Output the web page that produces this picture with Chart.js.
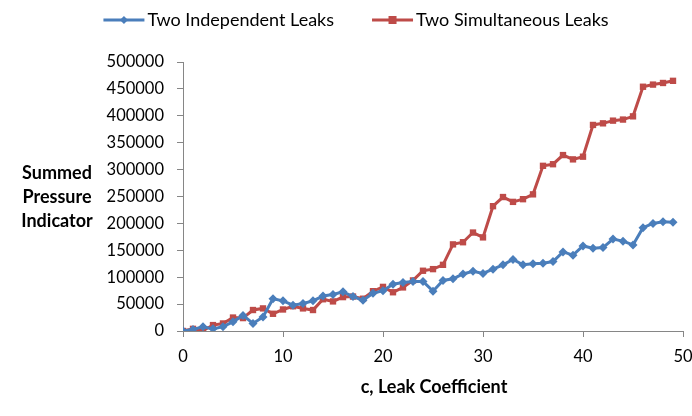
<!DOCTYPE html>
<html>
<head>
<meta charset="utf-8">
<script src="https://cdn.jsdelivr.net/npm/chart.js@4.4.1/dist/chart.umd.min.js"></script>
<style>
  html, body { margin: 0; padding: 0; background: #fff; }
  #wrap { width: 692px; height: 416px; position: relative; }
</style>
</head>
<body>
<div id="wrap"><canvas id="leaks"></canvas></div>
<script>
// leak coefficient c
var coefficients = [0, 1, 2, 3, 4, 5, 6, 7, 8, 9, 10, 11, 12, 13, 14, 15, 16, 17, 18, 19,
  20, 21, 22, 23, 24, 25, 26, 27, 28, 29, 30, 31, 32, 33, 34, 35, 36, 37, 38, 39,
  40, 41, 42, 43, 44, 45, 46, 47, 48, 49];
var independentLeaks = [0, 3000, 8000, 4000, 8000, 17000, 29000, 14000, 26000, 60000,
  56000, 48000, 51000, 56000, 65000, 68000, 73000, 64000, 57000, 70000,
  75000, 87000, 90000, 92000, 92000, 74000, 94000, 97000, 106000, 111000,
  107000, 115000, 123000, 133000, 123000, 125000, 126000, 129000, 147000, 141000,
  158000, 154000, 155000, 171000, 167000, 160000, 192000, 200000, 203000, 202000];
var simultaneousLeaks = [0, 4000, 1000, 11000, 14000, 25000, 24000, 39000, 42000, 32000,
  40000, 46000, 42000, 39000, 59000, 55000, 63000, 64000, 60000, 74000,
  82000, 72000, 81000, 94000, 112000, 115000, 123000, 161000, 165000, 183000,
  174000, 232000, 249000, 240000, 245000, 254000, 307000, 310000, 327000, 319000,
  324000, 383000, 386000, 391000, 393000, 399000, 454000, 458000, 461000, 465000];
var seriesNames = ['Two Independent Leaks', 'Two Simultaneous Leaks'];
var yTitle = ['Summed', 'Pressure', 'Indicator'];
var xTitle = 'c, Leak Coefficient';

var blue = '#4a7ebb';
var red = '#be4b48';
var axisGray = '#868686';
var fontName = 'Lato, "Open Sans", sans-serif';

function toPoints(vals) {
  return coefficients.map(function(c, i) { return { x: c, y: vals[i] }; });
}

// legend drawn by hand: line with marker, then the name
var lineLegend = {
  id: 'lineLegend',
  afterDraw: function(chart) {
    var ctx = chart.ctx;
    var sets = chart.data.datasets;
    ctx.save();
    ctx.font = '18px ' + fontName;
    var iconW = 41, gap = 3, between = 38, y = 20;
    var total = 0;
    sets.forEach(function(ds, i) {
      total += iconW + gap + ctx.measureText(ds.label).width + (i ? between : 0);
    });
    var x = 356 - total / 2;
    sets.forEach(function(ds) {
      ctx.strokeStyle = ds.borderColor;
      ctx.fillStyle = ds.borderColor;
      ctx.lineWidth = 3;
      ctx.beginPath(); ctx.moveTo(x, y); ctx.lineTo(x + iconW, y); ctx.stroke();
      var cx = x + iconW / 2;
      if (ds.pointStyle === 'rect') {
        ctx.fillRect(cx - 4, y - 4, 8, 8);
      } else {
        ctx.beginPath();
        ctx.moveTo(cx, y - 4); ctx.lineTo(cx + 4, y); ctx.lineTo(cx, y + 4); ctx.lineTo(cx - 4, y);
        ctx.closePath(); ctx.fill();
      }
      ctx.fillStyle = '#000';
      ctx.textAlign = 'left';
      ctx.textBaseline = 'middle';
      ctx.fillText(ds.label, x + iconW + gap, y);
      x += iconW + gap + ctx.measureText(ds.label).width + between;
    });
    ctx.restore();
  }
};

var titles = {
  id: 'axisTitles',
  afterDraw: function(chart) {
    var ctx = chart.ctx, area = chart.chartArea;
    ctx.save();
    ctx.fillStyle = '#000';
    ctx.font = 'bold 18px ' + fontName;
    ctx.textAlign = 'center';
    ctx.textBaseline = 'middle';
    yTitle.forEach(function(t, i) { ctx.fillText(t, 57, 173 + i * 24.3); });
    ctx.fillText(xTitle, 434, 387);
    ctx.restore();
  }
};

new Chart(document.getElementById('leaks'), {
  type: 'line',
  data: {
    datasets: [{
      label: seriesNames[0],
      data: toPoints(independentLeaks),
      borderColor: blue,
      backgroundColor: blue,
      borderWidth: 3,
      pointStyle: 'rectRot',
      pointRadius: 4.5,
      pointBorderWidth: 0,
      tension: 0
    }, {
      label: seriesNames[1],
      data: toPoints(simultaneousLeaks),
      borderColor: red,
      backgroundColor: red,
      borderWidth: 3,
      pointStyle: 'rect',
      pointRadius: 4.5,
      pointBorderWidth: 0,
      tension: 0
    }]
  },
  options: {
    responsive: true,
    maintainAspectRatio: false,
    animation: false,
    layout: { padding: { top: 62, right: 0, left: 0, bottom: 0 } },
    plugins: {
      legend: { display: false },
      tooltip: { enabled: false }
    },
    scales: {
      x: {
        type: 'linear',
        min: 0,
        max: 50,
        ticks: { stepSize: 10, color: '#000', font: { family: fontName, size: 16.5 }, padding: 10 },
        grid: { drawOnChartArea: false, drawTicks: true, tickLength: 6, color: axisGray },
        border: { color: axisGray, width: 1 },
        afterFit: function(scale) { scale.height = 85; scale.paddingRight = 9; }
      },
      y: {
        min: 0,
        max: 500000,
        ticks: {
          stepSize: 50000, color: '#000', font: { family: fontName, size: 16.5 }, padding: 13,
          callback: function(v) { return String(v); }
        },
        grid: { drawOnChartArea: false, drawTicks: true, tickLength: 6, color: axisGray },
        border: { color: axisGray, width: 1 },
        afterFit: function(scale) { scale.width = 183; }
      }
    }
  },
  plugins: [titles, lineLegend]
});
</script>
</body>
</html>
